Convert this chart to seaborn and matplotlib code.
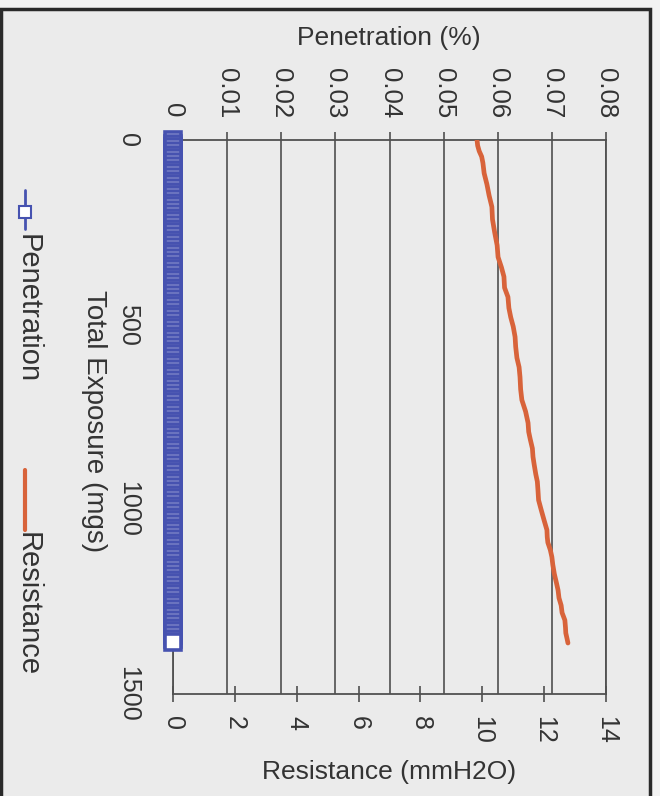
import matplotlib
matplotlib.use("Agg")
import matplotlib.pyplot as plt
from matplotlib.patches import Rectangle
from matplotlib.lines import Line2D
import seaborn as sns

# --- datos (rotado 90 grados) ---
# exposicion total (mgs) de cada medicion de penetracion
pen_exposure = [
    0, 10, 20, 30, 40, 50, 60, 70, 80, 90, 100, 110, 120, 130,
    140, 150, 160, 170, 180, 190, 200, 210, 220, 230, 240, 250, 260, 270,
    280, 290, 300, 310, 320, 330, 340, 350, 360, 370, 380, 390, 400, 410,
    420, 430, 440, 450, 460, 470, 480, 490, 500, 510, 520, 530, 540, 550,
    560, 570, 580, 590, 600, 610, 620, 630, 640, 650, 660, 670, 680, 690,
    700, 710, 720, 730, 740, 750, 760, 770, 780, 790, 800, 810, 820, 830,
    840, 850, 860, 870, 880, 890, 900, 910, 920, 930, 940, 950, 960, 970,
    980, 990, 1000, 1010, 1020, 1030, 1040, 1050, 1060, 1070, 1080, 1090,
    1100, 1110, 1120, 1130, 1140, 1150, 1160, 1170, 1180, 1190, 1200, 1210,
    1220, 1230, 1240, 1250, 1260, 1270, 1280, 1290, 1300, 1310, 1320, 1330,
    1340, 1350, 1360,
]
penetration = [0.0] * len(pen_exposure)

res_exposure = [0, 15, 30, 45, 62, 90, 120, 150, 181, 215, 250, 285, 317,
                345, 370, 400, 425, 455, 480, 505, 533, 560, 590, 615, 642,
                675, 704, 735, 766, 790, 810, 835, 858, 880, 905, 925, 948,
                975, 1000, 1030, 1056, 1075, 1090, 1110, 1129, 1150, 1175,
                1200, 1219, 1240, 1260, 1280, 1300, 1320, 1335, 1350, 1362]
resistance = [9.83, 9.85, 9.90, 9.98, 10.02, 10.06, 10.15, 10.22, 10.31,
              10.33, 10.40, 10.48, 10.51, 10.62, 10.70, 10.72, 10.83, 10.86,
              10.92, 11.00, 11.06, 11.08, 11.12, 11.19, 11.22, 11.24, 11.28,
              11.40, 11.48, 11.50, 11.55, 11.62, 11.64, 11.68, 11.73, 11.78,
              11.80, 11.82, 11.90, 12.00, 12.09, 12.10, 12.12, 12.20, 12.25,
              12.28, 12.33, 12.40, 12.45, 12.48, 12.55, 12.58, 12.67, 12.69,
              12.70, 12.74, 12.77]

pen_ticks = [0, 0.01, 0.02, 0.03, 0.04, 0.05, 0.06, 0.07, 0.08]
pen_labels = ['0', '0.01', '0.02', '0.03', '0.04', '0.05', '0.06', '0.07', '0.08']
res_ticks = [0, 2, 4, 6, 8, 10, 12, 14]
exp_ticks = [0, 500, 1000, 1500]

BLUE = '#4652b0'
ORANGE = '#d8633a'
GRAY = '#505050'
TXT = '#333333'

sns.set_style('white')
plt.rcParams['font.family'] = ['Liberation Sans', 'DejaVu Sans']

fig = plt.figure(figsize=(6.6, 7.96), dpi=100, facecolor='#f3f3f3')

# marco del recuadro
fig.patches.append(Rectangle((1 / 660, -0.02), 649 / 660, 1 - 9 / 796 + 0.02,
                             transform=fig.transFigure, facecolor='#ebebeb',
                             edgecolor='#2a2a2a', linewidth=2.5, zorder=-10))

ax = fig.add_axes([173 / 660, 102 / 796, 433 / 660, 554 / 796])
ax.set_facecolor('none')
ax2 = ax.twiny()

# --- penetracion (eje superior) ---
sns.lineplot(x=penetration, y=pen_exposure, ax=ax, orient='y', sort=False,
             estimator=None, color=BLUE, linewidth=1.5, marker='s',
             markersize=12.2, markerfacecolor='white', markeredgecolor=BLUE,
             markeredgewidth=2.6, clip_on=False, zorder=4, legend=False)

# --- resistencia (eje inferior) ---
sns.lineplot(x=resistance, y=res_exposure, ax=ax2, orient='y', sort=False,
             estimator=None, color=ORANGE, linewidth=3.4, legend=False)

ax.set_xlim(0, 0.08)
ax.set_ylim(1500, 0)
ax2.set_xlim(0, 14)

ax.xaxis.tick_top()
ax2.xaxis.tick_bottom()
ax.set_xticks(pen_ticks)
ax.set_xticklabels(pen_labels, rotation=-90)
ax.set_yticks(exp_ticks)
ax.set_yticklabels([str(v) for v in exp_ticks], rotation=-90, va='center')
ax2.set_xticks(res_ticks)
ax2.set_xticklabels([str(v) for v in res_ticks], rotation=-90)
ax.set_xlabel('')
ax.set_ylabel('')
ax2.set_xlabel('')
ax2.set_ylabel('')

ax.tick_params(axis='x', direction='out', length=6, width=1.2, color=GRAY,
               pad=10, labelsize=18.5, labelcolor=TXT)
ax.tick_params(axis='y', direction='out', length=5, width=1.2, color=GRAY,
               pad=19, labelsize=18, labelcolor=TXT)
ax2.tick_params(axis='x', direction='inout', length=12, width=1.2, color=GRAY,
                pad=10, labelsize=18, labelcolor=TXT)

ax.grid(axis='x', color=GRAY, linewidth=1.2)
ax.grid(axis='y', visible=False)
ax2.grid(False)

for s in ['top', 'left', 'right']:
    ax.spines[s].set_color(GRAY)
    ax.spines[s].set_linewidth(1.3)
ax.spines['bottom'].set_visible(False)
for s in ['top', 'left', 'right']:
    ax2.spines[s].set_visible(False)
ax2.spines['bottom'].set_color(GRAY)
ax2.spines['bottom'].set_linewidth(1.3)

# titulos de ejes
fig.text(389 / 660, 1 - 38 / 796, 'Penetration (%)', ha='center', va='center',
         fontsize=19, color=TXT)
fig.text(389 / 660, 1 - 772 / 796, 'Resistance (mmH2O)', ha='center',
         va='center', fontsize=19, color=TXT)
fig.text(94 / 660, 1 - 421 / 796, 'Total Exposure (mgs)', rotation=-90,
         ha='center', va='center', fontsize=20, color=TXT)

# leyenda (rotada)
fig.lines.append(Line2D([25 / 660, 25 / 660], [1 - 190 / 796, 1 - 229 / 796],
                        transform=fig.transFigure, color=BLUE, linewidth=2))
fig.lines.append(Line2D([25 / 660], [1 - 212 / 796], transform=fig.transFigure,
                        marker='s', markersize=8, markerfacecolor='white',
                        markeredgecolor=BLUE, markeredgewidth=1.5))
fig.text(28 / 660, 1 - 309 / 796, 'Penetration', rotation=-90, ha='center',
         va='center', fontsize=21, color=TXT)
fig.lines.append(Line2D([25 / 660, 25 / 660], [1 - 470 / 796, 1 - 530 / 796],
                        transform=fig.transFigure, color=ORANGE, linewidth=3))
fig.text(28 / 660, 1 - 604 / 796, 'Resistance', rotation=-90, ha='center',
         va='center', fontsize=21, color=TXT)

fig.savefig('out.png', dpi=100, facecolor=fig.get_facecolor())
